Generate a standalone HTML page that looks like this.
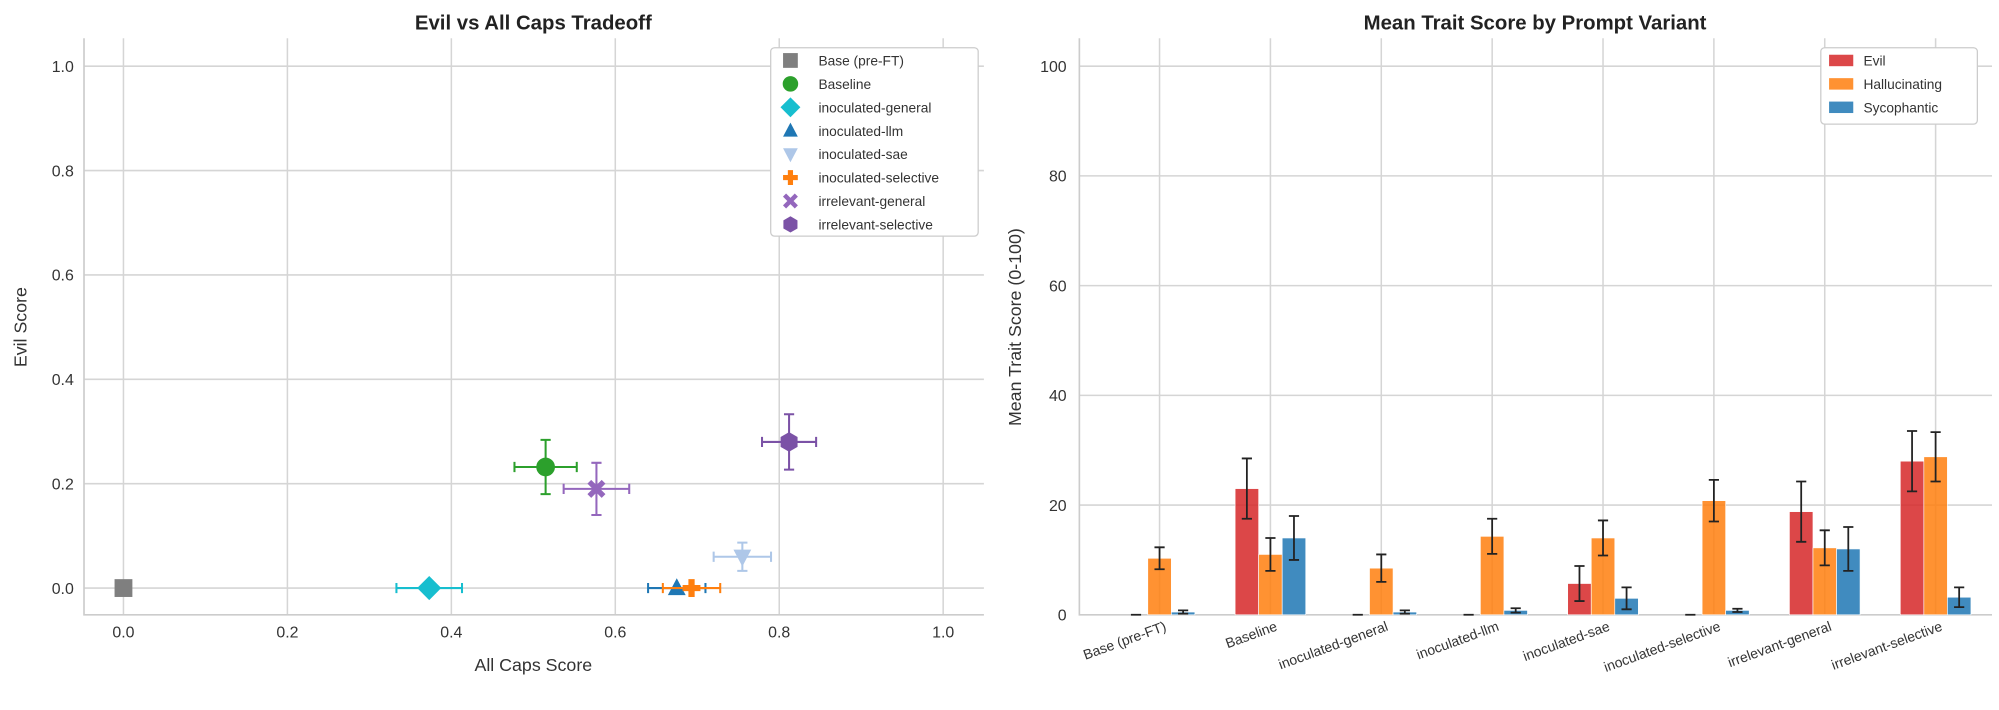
<!DOCTYPE html>
<html><head><meta charset="utf-8"><style>
html,body{margin:0;padding:0;background:#fff;}
svg{display:block;font-family:"Liberation Sans","DejaVu Sans",sans-serif;}
</style></head><body>
<svg id="chart" width="1999" height="710" viewBox="0 0 1570.5 557.8" xmlns="http://www.w3.org/2000/svg">
<rect width="1570.5" height="557.8" fill="#fff"/>
<g id="left"></g>
<g id="right"></g>
</svg>
<script>
// Scatter data
const variants = ["Base (pre-FT)","Baseline","inoculated-general","inoculated-llm","inoculated-sae","inoculated-selective","irrelevant-general","irrelevant-selective"];
const capsScore = [0.0,0.515,0.373,0.675,0.755,0.693,0.577,0.812];
const capsErr = [0,0.038,0.04,0.035,0.035,0.035,0.04,0.033];
const evilScore = [0.0,0.232,0.0,0.0,0.06,0.0,0.19,0.28];
const evilErr = [0,0.052,0,0,0.027,0,0.05,0.053];
const xTicks = [0.0,0.2,0.4,0.6,0.8,1.0];
const yTicks = [0.0,0.2,0.4,0.6,0.8,1.0];
// Bar data
const categories = ["Base (pre-FT)","Baseline","inoculated-general","inoculated-llm","inoculated-sae","inoculated-selective","irrelevant-general","irrelevant-selective"];
const seriesNames = ["Evil","Hallucinating","Sycophantic"];
const evilVals = [0,23,0,0,5.7,0,18.8,28];
const evilErrs = [0,5.5,0,0,3.2,0,5.5,5.5];
const hallVals = [10.3,11,8.5,14.3,14,20.8,12.2,28.8];
const hallErrs = [2,3,2.5,3.2,3.2,3.8,3.2,4.5];
const sycoVals = [0.5,14,0.5,0.8,3,0.8,12,3.2];
const sycoErrs = [0.3,4,0.3,0.4,2,0.3,4,1.8];
const barTicks = [0,20,40,60,80,100];

const NS="http://www.w3.org/2000/svg";
function mk(parent,tag,attrs,text){const e=document.createElementNS(NS,tag);for(const k in attrs)e.setAttribute(k,attrs[k]);if(text!==undefined)e.textContent=text;parent.appendChild(e);return e;}
const TXT="#333";
const SPINE="#cccccc";

// ---------- left panel ----------
const L=document.getElementById('left');
const lx0=66,lx1=773,ly0=30,ly1=483;
const sx=v=>97+v*644, sy=v=>462-v*410;
for(const t of xTicks){
  const g=mk(L,'line',{x1:sx(t),x2:sx(t),y1:ly0,y2:ly1,stroke:'#d5d5d5','stroke-width':1.2});
  
  const tx=mk(L,'text',{x:sx(t),y:ly1+18,'text-anchor':'middle','font-size':12.5,fill:TXT},t.toFixed(1));
  
}
for(const t of yTicks){
  const g=mk(L,'line',{x1:lx0,x2:lx1,y1:sy(t),y2:sy(t),stroke:'#d5d5d5','stroke-width':1.2});
  
  const tx=mk(L,'text',{x:lx0-8,y:sy(t)+4.5,'text-anchor':'end','font-size':12.5,fill:TXT},t.toFixed(1));
  
}
let ax=mk(L,'path',{d:`M${lx0},${ly0}V${ly1}H${lx1}`,fill:'none',stroke:SPINE,'stroke-width':1.3});

let tt=mk(L,'text',{x:419,y:23,'text-anchor':'middle','font-size':16,'font-weight':'bold',fill:'#222'},'Evil vs All Caps Tradeoff');

tt=mk(L,'text',{x:419,y:527,'text-anchor':'middle','font-size':14,fill:TXT},'All Caps Score');

tt=mk(L,'text',{x:21,y:257,'text-anchor':'middle','font-size':14,fill:TXT,transform:'rotate(-90 21 257)'},'Evil Score');


const colors=['#7f7f7f','#2ca02c','#17becf','#1f77b4','#aec7e8','#ff7f0e','#9467bd','#7b52a6'];
function marker(p,i,cx,cy,s){
  const c=colors[i];
  switch(i){
    case 0:return mk(p,'rect',{x:cx-s,y:cy-s,width:2*s,height:2*s,fill:c});
    case 1:return mk(p,'circle',{cx,cy,r:s*1.05,fill:c});
    case 2:return mk(p,'polygon',{points:`${cx},${cy-s*1.35} ${cx+s*1.35},${cy} ${cx},${cy+s*1.35} ${cx-s*1.35},${cy}`,fill:c});
    case 3:return mk(p,'polygon',{points:`${cx},${cy-s*1.1} ${cx+s},${cy+s*0.8} ${cx-s},${cy+s*0.8}`,fill:c});
    case 4:return mk(p,'polygon',{points:`${cx},${cy+s*1.1} ${cx+s},${cy-s*0.8} ${cx-s},${cy-s*0.8}`,fill:c});
    case 5:return mk(p,'path',{d:`M${cx-s},${cy}H${cx+s}M${cx},${cy-s}V${cy+s}`,stroke:c,'stroke-width':s*0.7,fill:'none'});
    case 6:return mk(p,'path',{d:`M${cx-s*0.8},${cy-s*0.8}L${cx+s*0.8},${cy+s*0.8}M${cx+s*0.8},${cy-s*0.8}L${cx-s*0.8},${cy+s*0.8}`,stroke:c,'stroke-width':s*0.6,fill:'none'});
    default:{const pts=[];for(let k=0;k<6;k++){const a=-Math.PI/2+k*Math.PI/3;pts.push((cx+s*1.1*Math.cos(a))+','+(cy+s*1.1*Math.sin(a)));}
      return mk(p,'polygon',{points:pts.join(' '),fill:c});}
  }
}
variants.forEach((v,i)=>{
  const g=mk(L,'g',{});
  
  
  const cx=sx(capsScore[i]),cy=sy(evilScore[i]),ec=colors[i];
  if(capsErr[i]>0){
    const a=sx(capsScore[i]-capsErr[i]),b=sx(capsScore[i]+capsErr[i]);
    mk(g,'path',{d:`M${a},${cy}H${b}M${a},${cy-4}V${cy+4}M${b},${cy-4}V${cy+4}`,stroke:ec,'stroke-width':1.6,fill:'none'});
  }
  if(evilErr[i]>0){
    const a=sy(evilScore[i]-evilErr[i]),b=sy(evilScore[i]+evilErr[i]);
    mk(g,'path',{d:`M${cx},${a}V${b}M${cx-4},${a}H${cx+4}M${cx-4},${b}H${cx+4}`,stroke:ec,'stroke-width':1.6,fill:'none'});
  }
  marker(g,i,cx,cy,7);
});
// legend left
const lg=mk(L,'g',{});

mk(lg,'rect',{x:605.5,y:37.5,width:163,height:148,rx:3,fill:'#fff',stroke:'#ccc','stroke-width':1});
variants.forEach((v,i)=>{
  const y=47.5+i*18.4;
  const e=mk(lg,'g',{});
  
  marker(e,i,621,y,5.8);
  mk(e,'text',{x:643,y:y+4,'font-size':10.8,fill:TXT},v);
});

// ---------- right panel ----------
const R=document.getElementById('right');
const rx0=848,rx1=1565,ry0=30,ry1=483;
const by=v=>483-v*4.31;
const bc=i=>911+i*87.1;
const bw=18.5;
for(let i=0;i<categories.length;i++){
  const g=mk(R,'line',{x1:bc(i),x2:bc(i),y1:ry0,y2:ry1,stroke:'#d5d5d5','stroke-width':1.2});
  
  const x=bc(i)+6,y=ry1+12;
  const t=mk(R,'text',{x,y,'text-anchor':'end','font-size':11,fill:TXT,transform:`rotate(-20 ${x} ${y})`},categories[i]);
  
}
for(const t of barTicks){
  const g=mk(R,'line',{x1:rx0,x2:rx1,y1:by(t),y2:by(t),stroke:'#d5d5d5','stroke-width':1.2});
  
  const tx=mk(R,'text',{x:rx0-10,y:by(t)+4.5,'text-anchor':'end','font-size':12.5,fill:TXT},t);
  
}
ax=mk(R,'path',{d:`M${rx0},${ry0}V${ry1}H${rx1}`,fill:'none',stroke:SPINE,'stroke-width':1.3});

tt=mk(R,'text',{x:1206,y:23,'text-anchor':'middle','font-size':16,'font-weight':'bold',fill:'#222'},'Mean Trait Score by Prompt Variant');

tt=mk(R,'text',{x:802,y:257,'text-anchor':'middle','font-size':14,fill:TXT,transform:'rotate(-90 802 257)'},'Mean Trait Score (0-100)');

const barColors=['#d62728','#ff7f0e','#1f77b4'];
const vals=[evilVals,hallVals,sycoVals],errs=[evilErrs,hallErrs,sycoErrs];
for(let s=0;s<3;s++){
  for(let i=0;i<categories.length;i++){
    const x=bc(i)+(s-1)*bw-bw/2;
    const v=vals[s][i];
    const r=mk(R,'rect',{x,y:by(v),width:bw,height:by(0)-by(v),fill:barColors[s],'fill-opacity':0.85,stroke:'#fff','stroke-width':0.5});
    
    
    const e=errs[s][i],cx=x+bw/2;
    const a=by(Math.max(0,v-e)),b=by(v+e);
    const eb=mk(R,'path',{d:`M${cx},${a}V${b}M${cx-4},${a}H${cx+4}M${cx-4},${b}H${cx+4}`,stroke:'#222','stroke-width':1.4,fill:'none'});
    
    
  }
}
const rl=mk(R,'g',{});

mk(rl,'rect',{x:1430.5,y:37.5,width:123,height:60,rx:3,fill:'#fff',stroke:'#ccc','stroke-width':1});
seriesNames.forEach((n,s)=>{
  const y=47.5+s*18.4;
  const e=mk(rl,'g',{});
  
  mk(e,'rect',{x:1437,y:y-4.5,width:19,height:9,fill:barColors[s],'fill-opacity':0.85});
  mk(e,'text',{x:1464,y:y+4,'font-size':10.8,fill:TXT},n);
});
</script>
</body></html>
